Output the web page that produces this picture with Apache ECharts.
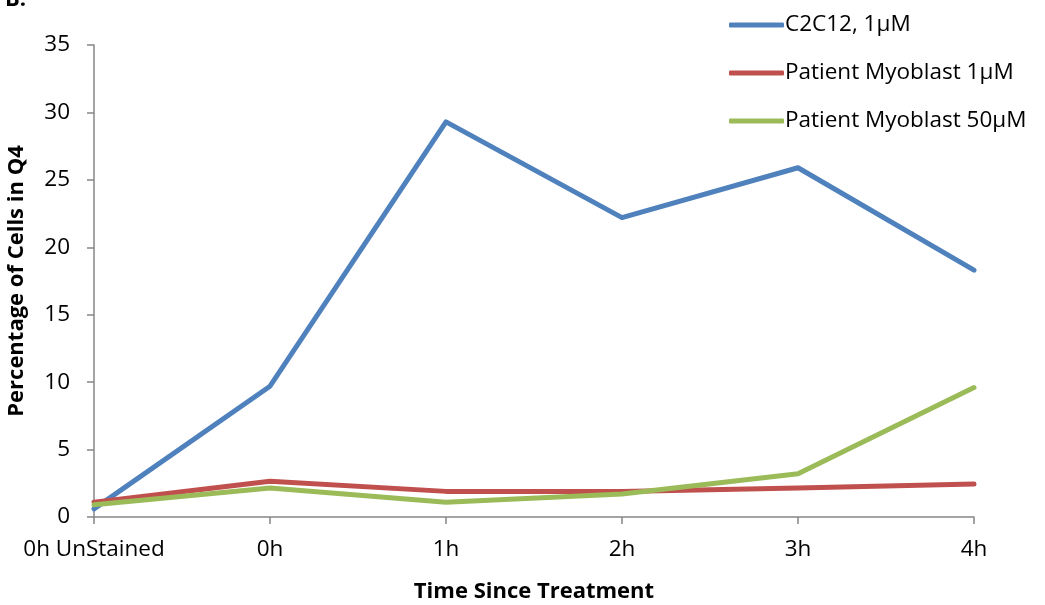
<!DOCTYPE html>
<html>
<head>
<meta charset="utf-8">
<script src="https://cdn.jsdelivr.net/npm/echarts@6/dist/echarts.min.js"></script>
<style>
  html, body { margin: 0; padding: 0; background: #fff; }
  #chart { width: 1045px; height: 605px; }
</style>
</head>
<body>
<div id="chart"></div>
<script>
// Time points after treatment
const categories = ['0h UnStained', '0h', '1h', '2h', '3h', '4h'];

// Percentage of cells in Q4 for each condition
const c2c12_1uM = [0.6, 9.7, 29.3, 22.2, 25.9, 18.3];
const patient_1uM = [1.1, 2.65, 1.9, 1.9, 2.15, 2.45];
const patient_50uM = [0.9, 2.15, 1.1, 1.7, 3.2, 9.6];

const seriesNames = ['C2C12, 1\u00b5M', 'Patient Myoblast 1\u00b5M', 'Patient Myoblast 50\u00b5M'];
const seriesColors = ['#4F81BD', '#C0504D', '#9BBB59'];

const font = '"Open Sans", Lato, sans-serif';
const axisGray = '#868686';
const labelSize = 22.5;

const chart = echarts.init(document.getElementById('chart'), null, { renderer: 'canvas' });

const makeLine = (name, data, color) => ({
  name: name,
  type: 'line',
  data: data,
  symbol: 'none',
  smooth: false,
  lineStyle: { color: color, width: 5, cap: 'round', join: 'round' },
  itemStyle: { color: color }
});

chart.setOption({
  animation: false,
  backgroundColor: '#ffffff',
  title: {
    text: 'B.',
    left: 0,
    top: -16,
    textStyle: { fontFamily: font, fontSize: 22, fontWeight: 'bold', color: '#000' }
  },
  grid: { left: 94, right: 71, top: 45, bottom: 88, containLabel: false, outerBoundsMode: 'none' },
  legend: {
    orient: 'vertical',
    left: 724,
    top: 8,
    itemGap: 24,
    itemWidth: 55,
    itemHeight: 5,
    icon: 'roundRect',
    textStyle: { fontFamily: font, fontSize: labelSize, lineHeight: 24, color: '#000', padding: [0, 0, 0, -4] },
    data: seriesNames
  },
  xAxis: {
    type: 'category',
    data: categories,
    boundaryGap: false,
    name: 'Time Since Treatment',
    nameLocation: 'middle',
    nameGap: 64,
    nameTextStyle: { fontFamily: font, fontSize: 22, fontWeight: 'bold', color: '#000' },
    axisLine: { lineStyle: { color: axisGray, width: 1.5 } },
    axisTick: { show: true, interval: 0, length: 7, lineStyle: { color: axisGray, width: 1.5 } },
    axisLabel: { interval: 0, hideOverlap: false, fontFamily: font, fontSize: labelSize, color: '#000', margin: 21 },
    splitLine: { show: false }
  },
  yAxis: {
    type: 'value',
    min: 0,
    max: 35,
    interval: 5,
    name: 'Percentage of Cells in Q4',
    nameLocation: 'middle',
    nameGap: 66,
    nameTextStyle: { fontFamily: font, fontSize: 22, fontWeight: 'bold', color: '#000' },
    axisLine: { show: true, lineStyle: { color: axisGray, width: 1.5 } },
    axisTick: { show: true, length: 7, lineStyle: { color: axisGray, width: 1.5 } },
    axisLabel: { fontFamily: font, fontSize: labelSize, color: '#000', margin: 24 },
    splitLine: { show: false }
  },
  series: [
    makeLine(seriesNames[0], c2c12_1uM, seriesColors[0]),
    makeLine(seriesNames[1], patient_1uM, seriesColors[1]),
    makeLine(seriesNames[2], patient_50uM, seriesColors[2])
  ]
});
</script>
</body>
</html>
